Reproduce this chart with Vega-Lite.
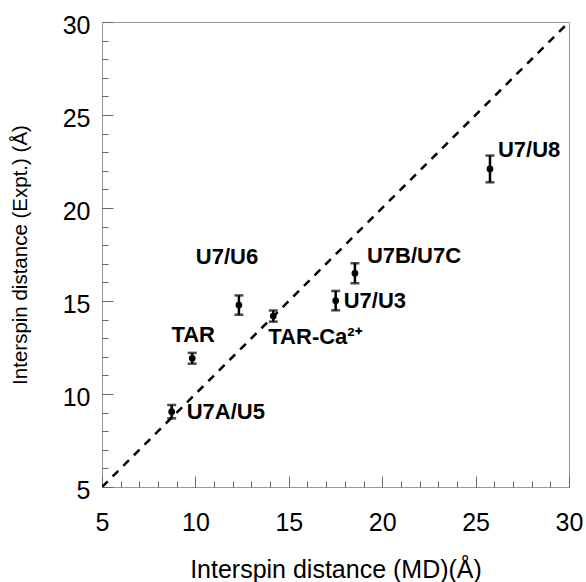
{
  "$schema": "https://vega.github.io/schema/vega-lite/v6.json",
  "width": 467,
  "height": 465,
  "autosize": {"type": "none"},
  "padding": {"left": 102, "top": 22, "right": 17, "bottom": 95},
  "background": "white",
  "config": {
    "view": {"stroke": "#999999", "strokeWidth": 1},
    "font": "Liberation Sans",
    "axis": {"grid": false, "domain": false, "ticks": true, "tickColor": "#666666", "tickWidth": 1, "labelFlush": false, "labelOverlap": false, "labelFont": "Liberation Sans", "titleFont": "Liberation Sans", "labelColor": "black", "titleColor": "black"}
  },
  "datasets": {
    "pts": [
      {"name": "U7A/U5", "md": 8.73, "expt": 9.05, "lo": 8.69, "hi": 9.41},
      {"name": "TAR", "md": 9.83, "expt": 11.92, "lo": 11.63, "hi": 12.21},
      {"name": "U7/U6", "md": 12.33, "expt": 14.78, "lo": 14.26, "hi": 15.3},
      {"name": "TAR-Ca²⁺", "md": 14.17, "expt": 14.19, "lo": 13.89, "hi": 14.49},
      {"name": "U7/U3", "md": 17.51, "expt": 15.02, "lo": 14.5, "hi": 15.54},
      {"name": "U7B/U7C", "md": 18.54, "expt": 16.49, "lo": 15.95, "hi": 17.03},
      {"name": "U7/U8", "md": 25.77, "expt": 22.1, "lo": 21.38, "hi": 22.82}
    ],
    "diag": [{"md": 5, "expt": 5}, {"md": 30, "expt": 30}]
  },
  "resolve": {"axis": {"x": "independent", "y": "independent"}},
  "layer": [
    {
      "data": {"name": "diag"},
      "mark": {"type": "line", "color": "black", "strokeWidth": 2.5, "strokeDash": [8, 7], "clip": true},
      "encoding": {
        "x": {"field": "md", "type": "quantitative", "scale": {"domain": [5, 30], "nice": false, "zero": false},
          "axis": {"orient": "bottom", "offset": -6, "values": [6,7,8,9,11,12,13,14,16,17,18,19,21,22,23,24,26,27,28,29], "tickSize": 6, "labels": false, "title": null}},
        "y": {"field": "expt", "type": "quantitative", "scale": {"domain": [5, 30], "nice": false, "zero": false},
          "axis": {"orient": "left", "offset": -6, "values": [6,7,8,9,11,12,13,14,16,17,18,19,21,22,23,24,26,27,28,29], "tickSize": 6, "labels": false, "title": null}}
      }
    },
    {
      "data": {"name": "pts"},
      "layer": [
        {
          "mark": {"type": "rule", "color": "black", "strokeWidth": 2.5},
          "encoding": {
            "x": {"field": "md", "type": "quantitative",
              "axis": {"orient": "bottom", "offset": -11, "values": [5,10,15,20,25,30], "tickSize": 11, "labelFontSize": 25, "labelPadding": 23, "title": "Interspin distance (MD)(Å)", "titleFontSize": 25, "titleFontWeight": "normal", "titlePadding": 22}},
            "y": {"field": "lo", "type": "quantitative",
              "axis": {"orient": "left", "offset": -11, "values": [5,10,15,20,25,30], "tickSize": 11, "labelFontSize": 25, "labelPadding": 12, "labelOffset": 3, "title": "Interspin distance (Expt.) (Å)", "titleFontSize": 20.5, "titleFontWeight": "normal", "titlePadding": 32}},
            "y2": {"field": "hi"}
          }
        },
        {
          "mark": {"type": "tick", "orient": "horizontal", "color": "black", "size": 9, "thickness": 2.5},
          "encoding": {"x": {"field": "md", "type": "quantitative"}, "y": {"field": "lo", "type": "quantitative"}}
        },
        {
          "mark": {"type": "tick", "orient": "horizontal", "color": "black", "size": 9, "thickness": 2.5},
          "encoding": {"x": {"field": "md", "type": "quantitative"}, "y": {"field": "hi", "type": "quantitative"}}
        },
        {
          "mark": {"type": "circle", "color": "black", "opacity": 1, "size": 45},
          "encoding": {"x": {"field": "md", "type": "quantitative"}, "y": {"field": "expt", "type": "quantitative"}}
        },
        {
          "transform": [{"filter": "datum.name == 'U7A/U5'"}],
          "mark": {"type": "text", "align": "left", "baseline": "middle", "dx": 15, "dy": 0, "fontSize": 22, "fontWeight": "bold", "color": "black"},
          "encoding": {"x": {"field": "md", "type": "quantitative"}, "y": {"field": "expt", "type": "quantitative"}, "text": {"field": "name"}}
        },
        {
          "transform": [{"filter": "datum.name == 'TAR'"}],
          "mark": {"type": "text", "align": "center", "baseline": "middle", "dx": 1, "dy": -23, "fontSize": 22, "fontWeight": "bold", "color": "black"},
          "encoding": {"x": {"field": "md", "type": "quantitative"}, "y": {"field": "expt", "type": "quantitative"}, "text": {"field": "name"}}
        },
        {
          "transform": [{"filter": "datum.name == 'U7/U6'"}],
          "mark": {"type": "text", "align": "center", "baseline": "middle", "dx": -12, "dy": -48, "fontSize": 22, "fontWeight": "bold", "color": "black"},
          "encoding": {"x": {"field": "md", "type": "quantitative"}, "y": {"field": "expt", "type": "quantitative"}, "text": {"field": "name"}}
        },
        {
          "transform": [{"filter": "datum.name == 'TAR-Ca²⁺'"}],
          "mark": {"type": "text", "align": "left", "baseline": "middle", "dx": -5, "dy": 21, "fontSize": 22, "fontWeight": "bold", "color": "black"},
          "encoding": {"x": {"field": "md", "type": "quantitative"}, "y": {"field": "expt", "type": "quantitative"}, "text": {"field": "name"}}
        },
        {
          "transform": [{"filter": "datum.name == 'U7/U3'"}],
          "mark": {"type": "text", "align": "left", "baseline": "middle", "dx": 8, "dy": 0, "fontSize": 22, "fontWeight": "bold", "color": "black"},
          "encoding": {"x": {"field": "md", "type": "quantitative"}, "y": {"field": "expt", "type": "quantitative"}, "text": {"field": "name"}}
        },
        {
          "transform": [{"filter": "datum.name == 'U7B/U7C'"}],
          "mark": {"type": "text", "align": "left", "baseline": "middle", "dx": 12, "dy": -17, "fontSize": 22, "fontWeight": "bold", "color": "black"},
          "encoding": {"x": {"field": "md", "type": "quantitative"}, "y": {"field": "expt", "type": "quantitative"}, "text": {"field": "name"}}
        },
        {
          "transform": [{"filter": "datum.name == 'U7/U8'"}],
          "mark": {"type": "text", "align": "left", "baseline": "middle", "dx": 8, "dy": -19, "fontSize": 22, "fontWeight": "bold", "color": "black"},
          "encoding": {"x": {"field": "md", "type": "quantitative"}, "y": {"field": "expt", "type": "quantitative"}, "text": {"field": "name"}}
        }
      ]
    }
  ]
}
